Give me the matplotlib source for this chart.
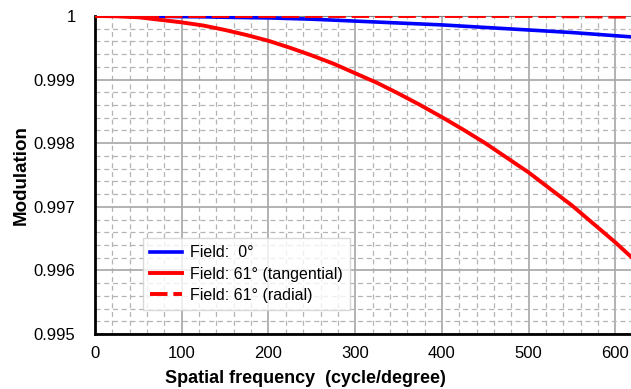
import matplotlib
matplotlib.use("Agg")
import matplotlib.pyplot as plt
from matplotlib.ticker import MultipleLocator, FuncFormatter

plt.rcParams['font.family'] = ['Liberation Sans', 'DejaVu Sans']

# spatial frequency (cycle/degree)
freq = [0, 25, 50, 75, 100, 125, 150, 175, 200, 225, 250, 275, 300, 325,
        350, 375, 400, 425, 450, 475, 500, 525, 550, 575, 600, 620]

# modulation values
field0 = [1.0, 1.0, 1.0, 0.999995, 0.99999, 0.999987, 0.99998, 0.999975,
          0.99997, 0.99996, 0.99995, 0.999935, 0.99992, 0.999905, 0.99989,
          0.999875, 0.99986, 0.99984, 0.99982, 0.9998, 0.99978, 0.99976,
          0.99974, 0.999715, 0.99969, 0.99967]
field61_tan = [1.0, 0.999995, 0.99998, 0.99994, 0.9999, 0.99985, 0.99978,
               0.9997, 0.99961, 0.9995, 0.99938, 0.99925, 0.9991, 0.99895,
               0.99878, 0.9986, 0.99841, 0.99821, 0.998, 0.99777, 0.99754,
               0.99728, 0.99702, 0.99673, 0.99644, 0.99619]
field61_rad = [1.0] * 22 + [0.999995, 0.999995, 0.99999, 0.99999]

fig = plt.figure(figsize=(6.31, 3.89), dpi=100)
ax = fig.add_axes([95/631, 1 - 334/389, 536/631, 318/389])

ax.plot(freq, field0, color='#0000ff', lw=2.6, label='Field:  0°', zorder=3)
ax.plot(freq, field61_tan, color='#ff0000', lw=2.8, label='Field: 61° (tangential)', zorder=4)
ax.plot(freq, field61_rad, color='#ff0000', lw=2.8, ls=(0, (4.5, 1.5)),
        label='Field: 61° (radial)', zorder=5)

ax.set_xlim(0, 618)
ax.set_ylim(0.995, 1.0)
ax.xaxis.set_major_locator(MultipleLocator(100))
ax.xaxis.set_minor_locator(MultipleLocator(20))
ax.yaxis.set_major_locator(MultipleLocator(0.001))
ax.yaxis.set_minor_locator(MultipleLocator(0.0002))
ax.yaxis.set_major_formatter(FuncFormatter(lambda v, p: '1' if abs(v - 1) < 1e-9 else '%.3f' % v))

ax.grid(which='major', color='#a6a6a6', lw=1.2, ls='-')
ax.grid(which='minor', color='#b4b4b4', lw=0.9, ls=(0, (4, 3)))
ax.set_axisbelow(True)

ax.tick_params(which='both', length=0, labelsize=12)
ax.tick_params(axis='y', pad=14)
ax.tick_params(axis='x', pad=9)

for s in ['left', 'bottom']:
    ax.spines[s].set_linewidth(2)
    ax.spines[s].set_color('black')
ax.spines['top'].set_color('#808080')
ax.spines['right'].set_visible(False)

ax.set_xlabel('Spatial frequency  (cycle/degree)', fontsize=13, fontweight='bold')
ax.xaxis.set_label_coords((305 - 95) / 536, -0.112)
ax.set_ylabel('Modulation', fontsize=13.5, fontweight='bold', labelpad=3)

leg = ax.legend(loc='lower left', bbox_to_anchor=(0.09, 0.075), fontsize=11.5,
                frameon=True, fancybox=False, handlelength=2.0, borderpad=0.45,
                labelspacing=0.4, handletextpad=0.5, borderaxespad=0)
leg.get_frame().set_edgecolor('#d0d0d0')
leg.get_frame().set_linewidth(1.0)

fig.savefig('out.png', dpi=100)
